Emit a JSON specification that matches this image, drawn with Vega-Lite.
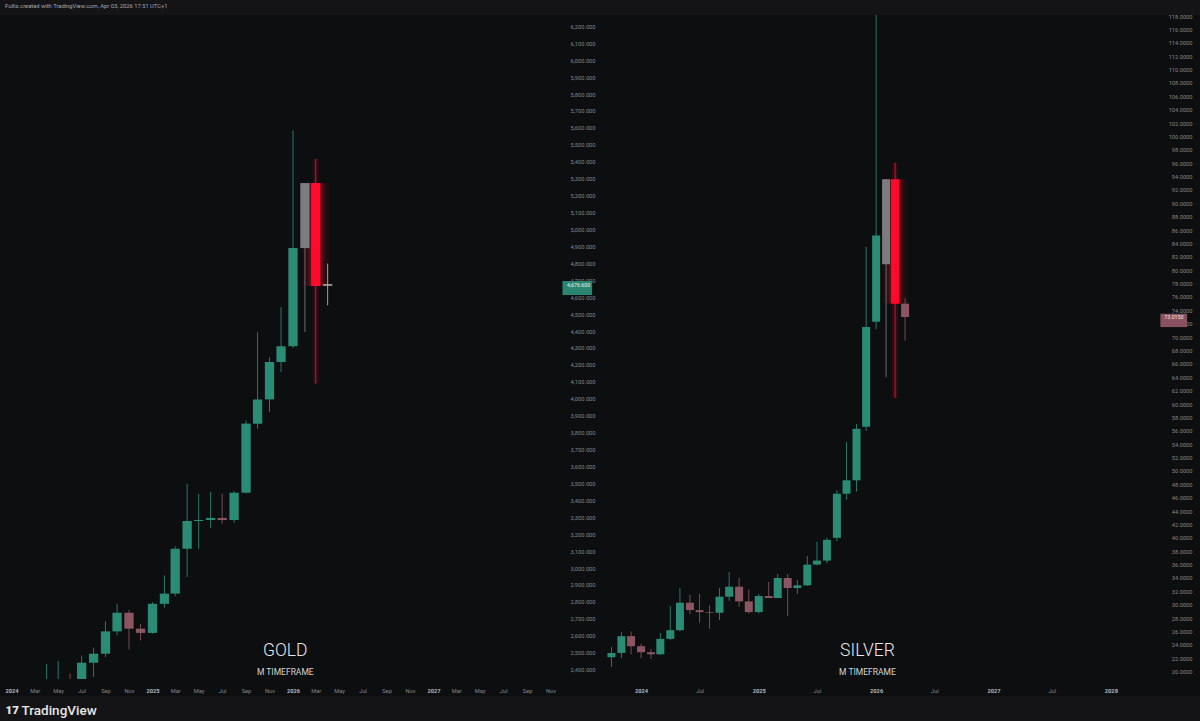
{
  "$schema": "https://vega.github.io/schema/vega-lite/v6.json",
  "background": "#141416",
  "padding": {"left": 0, "top": 3, "right": 0, "bottom": 12},
  "spacing": 0,
  "title": {"text": "Follis created with TradingView.com, Apr 03, 2026 17:51 UTC+1", "anchor": "start", "frame": "bounds", "dx": 5, "fontSize": 5.8, "font": "Roboto", "fontWeight": "normal", "color": "#a6a8ac", "offset": 4},
  "config": {"view": {"fill": "#0c0e10", "stroke": null}, "font": "Roboto", "axis": {"labelOverlap": false, "grid": false, "domain": false, "ticks": false, "tickSize": 0, "labelFlush": false, "labelBound": false, "tickCount": 200}},
  "datasets": {
    "gold": [
      {"date": "2024-04-01", "open": 2230, "high": 2432, "low": 2229, "close": 2286, "type": "up"},
      {"date": "2024-05-01", "open": 2286, "high": 2452, "low": 2277, "close": 2327, "type": "up"},
      {"date": "2024-06-01", "open": 2327, "high": 2376, "low": 2286, "close": 2326, "type": "down"},
      {"date": "2024-07-01", "open": 2326, "high": 2484, "low": 2318, "close": 2441, "type": "up"},
      {"date": "2024-08-01", "open": 2441, "high": 2530, "low": 2356, "close": 2494, "type": "up"},
      {"date": "2024-09-01", "open": 2494, "high": 2685, "low": 2474, "close": 2626, "type": "up"},
      {"date": "2024-10-01", "open": 2626, "high": 2789, "low": 2603, "close": 2736, "type": "up"},
      {"date": "2024-11-01", "open": 2736, "high": 2752, "low": 2520, "close": 2642, "type": "down"},
      {"date": "2024-12-01", "open": 2642, "high": 2670, "low": 2573, "close": 2617, "type": "down"},
      {"date": "2025-01-01", "open": 2617, "high": 2799, "low": 2612, "close": 2789, "type": "up"},
      {"date": "2025-02-01", "open": 2789, "high": 2957, "low": 2766, "close": 2849, "type": "up"},
      {"date": "2025-03-01", "open": 2849, "high": 3128, "low": 2833, "close": 3114, "type": "up"},
      {"date": "2025-04-01", "open": 3114, "high": 3498, "low": 2947, "close": 3278, "type": "up"},
      {"date": "2025-05-01", "open": 3278, "high": 3439, "low": 3114, "close": 3284, "type": "up"},
      {"date": "2025-06-01", "open": 3284, "high": 3449, "low": 3237, "close": 3296, "type": "up"},
      {"date": "2025-07-01", "open": 3296, "high": 3439, "low": 3262, "close": 3284, "type": "down"},
      {"date": "2025-08-01", "open": 3284, "high": 3454, "low": 3268, "close": 3445, "type": "up"},
      {"date": "2025-09-01", "open": 3445, "high": 3872, "low": 3440, "close": 3853, "type": "up"},
      {"date": "2025-10-01", "open": 3853, "high": 4394, "low": 3823, "close": 3996, "type": "up"},
      {"date": "2025-11-01", "open": 3996, "high": 4245, "low": 3922, "close": 4217, "type": "up"},
      {"date": "2025-12-01", "open": 4217, "high": 4542, "low": 4158, "close": 4310, "type": "up"},
      {"date": "2026-01-01", "open": 4310, "high": 5586, "low": 4300, "close": 4890, "type": "up"},
      {"date": "2026-02-01", "open": 4890, "high": 5274, "low": 4394, "close": 5274, "type": "proj"},
      {"date": "2026-03-01", "open": 5274, "high": 5418, "low": 4089, "close": 4666, "type": "signal"},
      {"date": "2026-04-01", "open": 4668, "high": 4798, "low": 4552, "close": 4676.6, "type": "cur"}
    ],
    "silver": [
      {"date": "2023-10-01", "open": 22.15, "high": 23.7, "low": 20.7, "close": 22.8, "type": "up"},
      {"date": "2023-11-01", "open": 22.8, "high": 25.9, "low": 22.0, "close": 25.3, "type": "up"},
      {"date": "2023-12-01", "open": 25.3, "high": 26.0, "low": 22.6, "close": 23.8, "type": "down"},
      {"date": "2024-01-01", "open": 23.8, "high": 24.2, "low": 22.0, "close": 22.9, "type": "down"},
      {"date": "2024-02-01", "open": 22.9, "high": 23.4, "low": 21.9, "close": 22.6, "type": "down"},
      {"date": "2024-03-01", "open": 22.6, "high": 25.8, "low": 22.5, "close": 24.9, "type": "up"},
      {"date": "2024-04-01", "open": 24.9, "high": 29.8, "low": 24.7, "close": 26.2, "type": "up"},
      {"date": "2024-05-01", "open": 26.2, "high": 32.5, "low": 26.0, "close": 30.3, "type": "up"},
      {"date": "2024-06-01", "open": 30.3, "high": 31.5, "low": 28.6, "close": 29.2, "type": "down"},
      {"date": "2024-07-01", "open": 29.2, "high": 31.6, "low": 27.3, "close": 28.9, "type": "down"},
      {"date": "2024-08-01", "open": 28.9, "high": 29.9, "low": 26.4, "close": 28.8, "type": "down"},
      {"date": "2024-09-01", "open": 28.8, "high": 32.5, "low": 27.7, "close": 31.2, "type": "up"},
      {"date": "2024-10-01", "open": 31.2, "high": 34.9, "low": 30.6, "close": 32.7, "type": "up"},
      {"date": "2024-11-01", "open": 32.7, "high": 34.0, "low": 29.7, "close": 30.5, "type": "down"},
      {"date": "2024-12-01", "open": 30.5, "high": 32.3, "low": 28.7, "close": 28.9, "type": "down"},
      {"date": "2025-01-01", "open": 28.9, "high": 31.6, "low": 28.7, "close": 31.3, "type": "up"},
      {"date": "2025-02-01", "open": 31.3, "high": 33.4, "low": 31.0, "close": 31.0, "type": "down"},
      {"date": "2025-03-01", "open": 31.0, "high": 34.6, "low": 31.0, "close": 34.0, "type": "up"},
      {"date": "2025-04-01", "open": 34.0, "high": 34.6, "low": 28.3, "close": 32.5, "type": "down"},
      {"date": "2025-05-01", "open": 32.5, "high": 33.7, "low": 31.6, "close": 32.9, "type": "up"},
      {"date": "2025-06-01", "open": 32.9, "high": 37.3, "low": 32.8, "close": 36.0, "type": "up"},
      {"date": "2025-07-01", "open": 36.0, "high": 39.4, "low": 35.9, "close": 36.6, "type": "up"},
      {"date": "2025-08-01", "open": 36.6, "high": 40.0, "low": 36.2, "close": 39.7, "type": "up"},
      {"date": "2025-09-01", "open": 40.0, "high": 47.1, "low": 39.5, "close": 46.6, "type": "up"},
      {"date": "2025-10-01", "open": 46.6, "high": 54.3, "low": 45.7, "close": 48.6, "type": "up"},
      {"date": "2025-11-01", "open": 48.6, "high": 57.0, "low": 46.9, "close": 56.3, "type": "up"},
      {"date": "2025-12-01", "open": 56.6, "high": 83.5, "low": 56.0, "close": 71.5, "type": "up"},
      {"date": "2026-01-01", "open": 72.3, "high": 121.6, "low": 71.2, "close": 85.2, "type": "up"},
      {"date": "2026-02-01", "open": 80.9, "high": 93.6, "low": 64.0, "close": 93.6, "type": "proj"},
      {"date": "2026-03-01", "open": 93.6, "high": 96.1, "low": 60.9, "close": 75.0, "type": "signal"},
      {"date": "2026-04-01", "open": 75.0, "high": 75.8, "low": 69.5, "close": 73.015, "type": "down"}
    ]
  },
  "hconcat": [
    {
      "width": 598,
      "height": 681,
      "data": {"name": "gold"},
      "layer": [
        {
          "transform": [{"filter": "datum.type == 'signal'"}],
          "mark": {"type": "bar", "size": 6, "opacity": 0.13, "color": "#ff1030"},
          "encoding": {
            "x": {"field": "date", "type": "temporal"},
            "y": {"field": "low", "type": "quantitative"},
            "y2": {"field": "high"}
          }
        },
        {
          "transform": [{"filter": "datum.type == 'signal'"}],
          "mark": {"type": "bar", "size": 27, "opacity": 0.07, "color": "#ff1030"},
          "encoding": {
            "x": {"field": "date", "type": "temporal"},
            "y": {"field": "open", "type": "quantitative"},
            "y2": {"field": "close"}
          }
        },
        {
          "transform": [{"filter": "datum.type == 'signal'"}],
          "mark": {"type": "bar", "size": 19, "opacity": 0.12, "color": "#ff1030"},
          "encoding": {
            "x": {"field": "date", "type": "temporal"},
            "y": {"field": "open", "type": "quantitative"},
            "y2": {"field": "close"}
          }
        },
        {
          "transform": [{"filter": "datum.type == 'signal'"}],
          "mark": {"type": "bar", "size": 14, "opacity": 0.2, "color": "#ff1030"},
          "encoding": {
            "x": {"field": "date", "type": "temporal"},
            "y": {"field": "open", "type": "quantitative"},
            "y2": {"field": "close"}
          }
        },
        {
          "mark": {"type": "rule", "strokeWidth": 1, "opacity": 0.85},
          "encoding": {
            "x": {
              "field": "date", "type": "temporal", "title": "TradingView",
              "scale": {"type": "utc", "domain": [{"year": 2023, "month": 12, "date": 14, "hours": 22, "utc": true}, {"year": 2028, "month": 2, "date": 19, "hours": 7, "utc": true}]},
              "axis": {
                "orient": "bottom", "offset": -17, "domain": false, "ticks": false, "tickSize": 0, "grid": false, "tickCount": 200,
                "values": [
                  {"year": 2024, "month": 1, "date": 1, "utc": true}, {"year": 2024, "month": 3, "date": 1, "utc": true}, {"year": 2024, "month": 5, "date": 1, "utc": true}, {"year": 2024, "month": 7, "date": 1, "utc": true}, {"year": 2024, "month": 9, "date": 1, "utc": true}, {"year": 2024, "month": 11, "date": 1, "utc": true},
                  {"year": 2025, "month": 1, "date": 1, "utc": true}, {"year": 2025, "month": 3, "date": 1, "utc": true}, {"year": 2025, "month": 5, "date": 1, "utc": true}, {"year": 2025, "month": 7, "date": 1, "utc": true}, {"year": 2025, "month": 9, "date": 1, "utc": true}, {"year": 2025, "month": 11, "date": 1, "utc": true},
                  {"year": 2026, "month": 1, "date": 1, "utc": true}, {"year": 2026, "month": 3, "date": 1, "utc": true}, {"year": 2026, "month": 5, "date": 1, "utc": true}, {"year": 2026, "month": 7, "date": 1, "utc": true}, {"year": 2026, "month": 9, "date": 1, "utc": true}, {"year": 2026, "month": 11, "date": 1, "utc": true},
                  {"year": 2027, "month": 1, "date": 1, "utc": true}, {"year": 2027, "month": 3, "date": 1, "utc": true}, {"year": 2027, "month": 5, "date": 1, "utc": true}, {"year": 2027, "month": 7, "date": 1, "utc": true}, {"year": 2027, "month": 9, "date": 1, "utc": true}, {"year": 2027, "month": 11, "date": 1, "utc": true}
                ],
                "labelExpr": "utcmonth(datum.value) == 0 ? utcFormat(datum.value, '%Y') : utcFormat(datum.value, '%b')",
                "labelOverlap": false, "labelPadding": 8, "labelFont": "Roboto", "labelFontSize": 5.7,
                "labelColor": {"condition": {"test": "utcmonth(datum.value) == 0", "value": "#b8babe"}, "value": "#86888c"},
                "labelFontWeight": {"condition": {"test": "utcmonth(datum.value) == 0", "value": "bold"}, "value": "normal"},
                "titleX": 21, "titleY": 31, "titleAlign": "left", "titleAnchor": "start", "titleBaseline": "middle", "titleAngle": 0,
                "titleFont": "Roboto", "titleFontSize": 13.5, "titleFontWeight": 500, "titleColor": "#e6e6e6"
              }
            },
            "y": {
              "field": "low", "type": "quantitative", "title": "17",
              "scale": {"domain": [2344.7, 6266.7], "range": [664, 0], "clamp": true, "nice": false, "zero": false},
              "axis": {
                "orient": "right", "offset": -38, "domain": false, "ticks": false, "tickSize": 0, "grid": false, "tickCount": 200,
                "values": [2400, 2500, 2600, 2700, 2800, 2900, 3000, 3100, 3200, 3300, 3400, 3500, 3600, 3700, 3800, 3900, 4000, 4100, 4200, 4300, 4400, 4500, 4600, 4700, 4800, 4900, 5000, 5100, 5200, 5300, 5400, 5500, 5600, 5700, 5800, 5900, 6000, 6100, 6200],
                "format": ",.3f", "labelAlign": "right", "labelPadding": 35, "labelOverlap": false, "labelFont": "Roboto", "labelFontSize": 5.7, "labelColor": "#86888c",
                "titleX": -555, "titleY": 695, "titleAngle": 0, "titleAlign": "left", "titleBaseline": "middle",
                "titleFont": "Roboto", "titleFontSize": 11.5, "titleFontWeight": 900, "titleColor": "#e6e6e6"
              }
            },
            "y2": {"field": "high"},
            "color": {"field": "type", "type": "nominal", "legend": null, "scale": {"domain": ["up", "down", "proj", "signal", "cur"], "range": ["#2b8c76", "#8b5661", "#7c7c7e", "#ff0a2c", "#b8b8b8"]}}
          }
        },
        {
          "mark": {"type": "bar", "size": 9.3},
          "encoding": {
            "x": {"field": "date", "type": "temporal"},
            "y": {"field": "open", "type": "quantitative"},
            "y2": {"field": "close"},
            "color": {"field": "type", "type": "nominal", "legend": null}
          }
        },
        {
          "data": {"values": [{}]},
          "mark": {"type": "rect", "color": "#2a8571"},
          "encoding": {
            "x": {"datum": {"year": 2027, "month": 12, "date": 2, "utc": true}, "type": "temporal"},
            "x2": {"datum": {"year": 2028, "month": 2, "date": 17, "utc": true}},
            "y": {"datum": 4695.6, "type": "quantitative"},
            "y2": {"datum": 4612.9}
          }
        },
        {
          "data": {"values": [{}]},
          "mark": {"type": "text", "text": "4,676.600", "fontSize": 5.3, "color": "#e4f4ef", "align": "center", "baseline": "middle"},
          "encoding": {
            "x": {"datum": {"year": 2028, "month": 1, "date": 13, "utc": true}, "type": "temporal"},
            "y": {"datum": 4672, "type": "quantitative"}
          }
        },
        {
          "data": {"values": [{}]},
          "mark": {"type": "text", "text": "GOLD", "font": "Roboto", "fontSize": 17.5, "fontWeight": 300, "color": "#e8e8e8", "align": "center", "baseline": "middle"},
          "encoding": {
            "x": {"datum": {"year": 2025, "month": 12, "date": 12, "utc": true}, "type": "temporal"},
            "y": {"datum": 2508, "type": "quantitative"}
          }
        },
        {
          "data": {"values": [{}]},
          "mark": {"type": "text", "text": "M TIMEFRAME", "font": "Roboto", "fontSize": 8.5, "fontWeight": 400, "color": "#d4d4d4", "align": "center", "baseline": "middle"},
          "encoding": {
            "x": {"datum": {"year": 2025, "month": 12, "date": 12, "utc": true}, "type": "temporal"},
            "y": {"datum": 2386, "type": "quantitative"}
          }
        }
      ]
    },
    {
      "width": 602,
      "height": 681,
      "data": {"name": "silver"},
      "layer": [
        {
          "transform": [{"filter": "datum.type == 'signal'"}],
          "mark": {"type": "bar", "size": 6, "opacity": 0.13, "color": "#ff1030"},
          "encoding": {
            "x": {"field": "date", "type": "temporal"},
            "y": {"field": "low", "type": "quantitative"},
            "y2": {"field": "high"}
          }
        },
        {
          "transform": [{"filter": "datum.type == 'signal'"}],
          "mark": {"type": "bar", "size": 25, "opacity": 0.07, "color": "#ff1030"},
          "encoding": {
            "x": {"field": "date", "type": "temporal"},
            "y": {"field": "open", "type": "quantitative"},
            "y2": {"field": "close"}
          }
        },
        {
          "transform": [{"filter": "datum.type == 'signal'"}],
          "mark": {"type": "bar", "size": 17, "opacity": 0.12, "color": "#ff1030"},
          "encoding": {
            "x": {"field": "date", "type": "temporal"},
            "y": {"field": "open", "type": "quantitative"},
            "y2": {"field": "close"}
          }
        },
        {
          "transform": [{"filter": "datum.type == 'signal'"}],
          "mark": {"type": "bar", "size": 12, "opacity": 0.2, "color": "#ff1030"},
          "encoding": {
            "x": {"field": "date", "type": "temporal"},
            "y": {"field": "open", "type": "quantitative"},
            "y2": {"field": "close"}
          }
        },
        {
          "mark": {"type": "rule", "strokeWidth": 1, "opacity": 0.85},
          "encoding": {
            "x": {
              "field": "date", "type": "temporal", "title": null,
              "scale": {"type": "utc", "domain": [{"year": 2023, "month": 9, "date": 4, "hours": 17, "utc": true}, {"year": 2028, "month": 9, "date": 18, "hours": 14, "utc": true}]},
              "axis": {
                "orient": "bottom", "offset": -17, "domain": false, "ticks": false, "tickSize": 0, "grid": false, "tickCount": 200,
                "values": [
                  {"year": 2024, "month": 1, "date": 1, "utc": true}, {"year": 2024, "month": 7, "date": 1, "utc": true},
                  {"year": 2025, "month": 1, "date": 1, "utc": true}, {"year": 2025, "month": 7, "date": 1, "utc": true},
                  {"year": 2026, "month": 1, "date": 1, "utc": true}, {"year": 2026, "month": 7, "date": 1, "utc": true},
                  {"year": 2027, "month": 1, "date": 1, "utc": true}, {"year": 2027, "month": 7, "date": 1, "utc": true},
                  {"year": 2028, "month": 1, "date": 1, "utc": true}
                ],
                "labelExpr": "utcmonth(datum.value) == 0 ? utcFormat(datum.value, '%Y') : utcFormat(datum.value, '%b')",
                "labelOverlap": false, "labelPadding": 8, "labelFont": "Roboto", "labelFontSize": 5.7,
                "labelColor": {"condition": {"test": "utcmonth(datum.value) == 0", "value": "#b8babe"}, "value": "#86888c"},
                "labelFontWeight": {"condition": {"test": "utcmonth(datum.value) == 0", "value": "bold"}, "value": "normal"}
              }
            },
            "y": {
              "field": "low", "type": "quantitative", "title": null,
              "scale": {"domain": [18.9, 118.15], "range": [664, 0], "clamp": true, "nice": false, "zero": false},
              "axis": {
                "orient": "right", "offset": -37, "domain": false, "ticks": false, "tickSize": 0, "grid": false, "tickCount": 200,
                "values": [20, 22, 24, 26, 28, 30, 32, 34, 36, 38, 40, 42, 44, 46, 48, 50, 52, 54, 56, 58, 60, 62, 64, 66, 68, 70, 72, 74, 76, 78, 80, 82, 84, 86, 88, 90, 92, 94, 96, 98, 100, 102, 104, 106, 108, 110, 112, 114, 116, 118],
                "format": ".4f", "labelAlign": "right", "labelPadding": 29, "labelOverlap": false, "labelFont": "Roboto", "labelFontSize": 5.7, "labelColor": "#86888c"
              }
            },
            "y2": {"field": "high"},
            "color": {"field": "type", "type": "nominal", "legend": null, "scale": {"domain": ["up", "down", "proj", "signal", "cur"], "range": ["#2b8c76", "#8b5661", "#7c7c7e", "#ff0a2c", "#b8b8b8"]}}
          }
        },
        {
          "mark": {"type": "bar", "size": 8},
          "encoding": {
            "x": {"field": "date", "type": "temporal"},
            "y": {"field": "open", "type": "quantitative"},
            "y2": {"field": "close"},
            "color": {"field": "type", "type": "nominal", "legend": null}
          }
        },
        {
          "data": {"values": [{}]},
          "mark": {"type": "rect", "color": "#8a5260"},
          "encoding": {
            "x": {"datum": {"year": 2028, "month": 6, "date": 3, "utc": true}, "type": "temporal"},
            "x2": {"datum": {"year": 2028, "month": 8, "date": 25, "utc": true}},
            "y": {"datum": 73.5, "type": "quantitative"},
            "y2": {"datum": 71.5}
          }
        },
        {
          "data": {"values": [{}]},
          "mark": {"type": "text", "text": "73.0150", "fontSize": 5.3, "color": "#f4e4e8", "align": "center", "baseline": "middle"},
          "encoding": {
            "x": {"datum": {"year": 2028, "month": 7, "date": 15, "utc": true}, "type": "temporal"},
            "y": {"datum": 73.0, "type": "quantitative"}
          }
        },
        {
          "data": {"values": [{}]},
          "mark": {"type": "text", "text": "SILVER", "font": "Roboto", "fontSize": 17.5, "fontWeight": 300, "color": "#e8e8e8", "align": "center", "baseline": "middle"},
          "encoding": {
            "x": {"datum": {"year": 2025, "month": 12, "date": 5, "utc": true}, "type": "temporal"},
            "y": {"datum": 23.1, "type": "quantitative"}
          }
        },
        {
          "data": {"values": [{}]},
          "mark": {"type": "text", "text": "M TIMEFRAME", "font": "Roboto", "fontSize": 8.5, "fontWeight": 400, "color": "#d4d4d4", "align": "center", "baseline": "middle"},
          "encoding": {
            "x": {"datum": {"year": 2025, "month": 12, "date": 5, "utc": true}, "type": "temporal"},
            "y": {"datum": 19.94, "type": "quantitative"}
          }
        }
      ]
    }
  ]
}
